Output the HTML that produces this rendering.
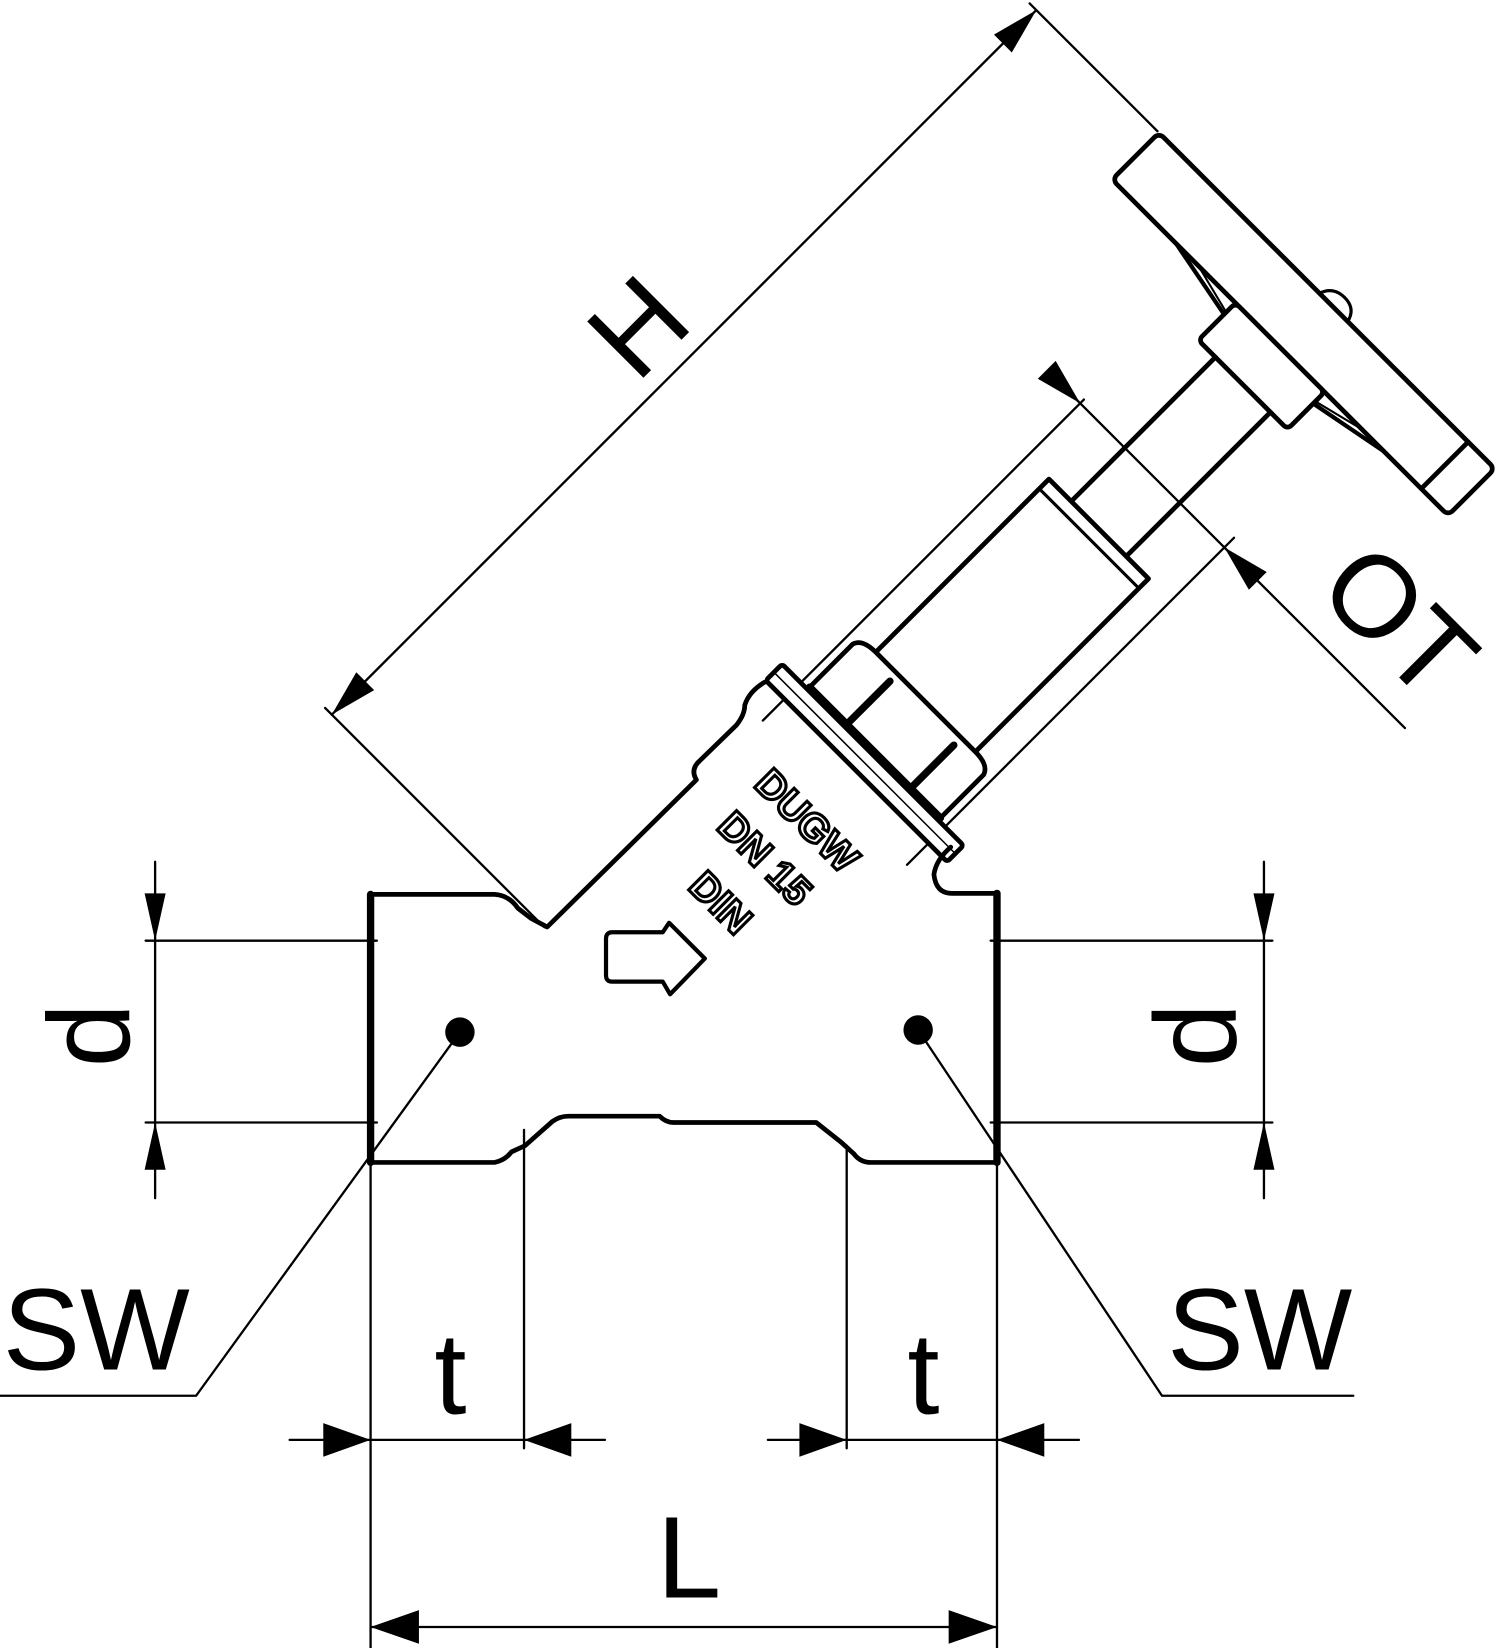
<!DOCTYPE html>
<html><head><meta charset="utf-8"><style>
html,body{margin:0;padding:0;background:#fff;}
svg{display:block;}
text{font-family:"Liberation Sans",Arial,sans-serif;}
</style></head><body>
<svg width="1500" height="1648" viewBox="0 0 1426 1568" xmlns="http://www.w3.org/2000/svg">
<rect width="1426" height="1568" fill="#fff"/>
<g fill="none" stroke="#000" stroke-linejoin="round" stroke-linecap="round">
<g transform="translate(774,774) rotate(-45)">
  <line x1="-258" y1="-391" x2="690" y2="-391" stroke-width="2.2"/>
  <line x1="-258" y1="-400" x2="-258" y2="-105" stroke-width="2.2"/>
  <line x1="690" y1="-400" x2="690" y2="-228" stroke-width="2.2"/>
  <polygon points="-258,-391 -213,-403 -213,-379" fill="#000" stroke="none"/>
  <polygon points="690,-391 645,-403 645,-379" fill="#000" stroke="none"/>
  <line x1="28" y1="-97" x2="460" y2="-97" stroke-width="2.2"/>
  <line x1="28" y1="97" x2="468" y2="97" stroke-width="2.2"/>
  <line x1="455" y1="-140" x2="455" y2="340" stroke-width="2.2"/>
  <polygon points="455,-97 443,-142 467,-142" fill="#000" stroke="none"/>
  <polygon points="455,97 443,142 467,142" fill="#000" stroke="none"/>
  <rect x="627" y="-226" width="63" height="452" rx="6" stroke-width="4.5" fill="#fff"/>
  <line x1="627" y1="190" x2="690" y2="190" stroke-width="4.5"/>
  <path d="M690,-10 Q705,-5 704,12 Q703,25 690,28" stroke-width="3"/>
  <path d="M627,-140 L612,-62 M627,140 L612,62" stroke-width="4"/>
  <path d="M627,-110 L612,-50 M627,110 L612,50" stroke-width="2"/>
  <rect x="577" y="-60" width="50" height="120" rx="5" stroke-width="4.5" fill="#fff"/>
  <line x1="383" y1="-37" x2="577" y2="-37" stroke-width="4.5"/>
  <line x1="383" y1="37" x2="577" y2="37" stroke-width="4.5"/>
  <path d="M150,-67 L383,-67 L383,67 L150,67" stroke-width="4.5" fill="#fff"/>
  <path d="M370,-67 L370,67" stroke-width="3"/>
  <path d="M80,-88 L140,-88 Q150,-85 150,-67 L150,67 Q150,85 140,88 L80,88" stroke-width="4.5" fill="#fff"/>
  <line x1="82" y1="-38" x2="140" y2="-38" stroke-width="7"/>
  <line x1="82" y1="48" x2="140" y2="48" stroke-width="7"/>
  <line x1="82" y1="-88" x2="82" y2="88" stroke-width="7"/>
  <rect x="57" y="-122" width="22" height="244" rx="3" stroke-width="4.5" fill="#fff"/>
  <line x1="68" y1="-122" x2="68" y2="122" stroke-width="1.5"/>
</g>
<path d="M352,1106 L352,851 L470,851 Q484,852 492,864 L505,874 L520,882 L662,742 Q656,732 665,724 L700,690 Q708,680 708,671 Q712,658 727,649" stroke-width="4.5"/>
<path d="M904,806 Q890,818 888,832 Q890,850 905,850 L948,850 L948,1106" stroke-width="4.5"/>
<line x1="352" y1="851" x2="352" y2="1106" stroke-width="7"/>
<line x1="948" y1="850" x2="948" y2="1106" stroke-width="7"/>
<path d="M352,1106 L470,1106 Q480,1104 486,1096 L499,1090 L525,1067 Q532,1062 540,1062 L627,1062 Q633,1068 640,1068 L776,1068 L800,1087 L812,1098 Q818,1106 828,1106 L948,1106" stroke-width="4.5"/>
<path d="M582,887 L630,887 L636,878 L670,912 L637,946 L630,934 L582,934 Q576,934 576,928 L576,893 Q576,887 582,887 Z" stroke-width="4"/>
<g stroke-width="2.2">
<line x1="138" y1="895" x2="358" y2="895"/><line x1="138" y1="1068" x2="358" y2="1068"/>
<line x1="147" y1="820" x2="147" y2="1140"/>
<line x1="942" y1="895" x2="1210" y2="895"/><line x1="942" y1="1068" x2="1210" y2="1068"/>
<line x1="1202" y1="820" x2="1202" y2="1140"/>
<polyline points="0,1328 186,1328 437,982"/>
<polyline points="873,980 1105,1328 1287,1328"/>
<line x1="352" y1="1106" x2="352" y2="1568"/>
<line x1="948" y1="1106" x2="948" y2="1568"/>
<line x1="498" y1="1075" x2="498" y2="1378"/>
<line x1="805" y1="1090" x2="805" y2="1378"/>
<line x1="275" y1="1370" x2="575" y2="1370"/>
<line x1="730" y1="1370" x2="1026" y2="1370"/>
<line x1="352" y1="1548" x2="948" y2="1548"/>
</g>
</g>
<g fill="#000">
<circle cx="437" cy="982" r="14"/>
<circle cx="873" cy="980" r="14"/>
<polygon points="147,895 137,850 157,850"/><polygon points="147,1068 137,1113 157,1113"/>
<polygon points="1202,895 1192,850 1212,850"/><polygon points="1202,1068 1192,1113 1212,1113"/>
<polygon points="352,1370 307,1354 307,1386"/><polygon points="498,1370 543,1354 543,1386"/>
<polygon points="805,1370 760,1354 760,1386"/><polygon points="948,1370 993,1354 993,1386"/>
<polygon points="352,1548 398,1532 398,1564"/><polygon points="948,1548 902,1532 902,1564"/>
</g>
<g fill="#000" font-size="110">
<text x="2" y="1303" textLength="178" lengthAdjust="spacingAndGlyphs">SW</text>
<text x="1110" y="1303" textLength="176" lengthAdjust="spacingAndGlyphs">SW</text>
<text x="428" y="1345" text-anchor="middle">t</text>
<text x="878" y="1345" text-anchor="middle">t</text>
<text x="655" y="1520" text-anchor="middle">L</text>
<text transform="translate(122,985) rotate(-90)" text-anchor="middle">d</text>
<text transform="translate(1175,985) rotate(-90)" text-anchor="middle">d</text>
<text transform="translate(774,774) rotate(-45)" x="209" y="-408" text-anchor="middle">H</text>
<text transform="translate(1304,618) rotate(45)" text-anchor="middle">OT</text>
</g>
<g fill="#fff" stroke="#000" stroke-width="3" font-size="38" font-weight="bold" text-anchor="middle">
<text transform="translate(758,790) rotate(45)">DUGW</text>
<text transform="translate(718,826) rotate(45)">DN 15</text>
<text transform="translate(676,868) rotate(45)">DIN</text>
</g>
</svg>
</body></html>
